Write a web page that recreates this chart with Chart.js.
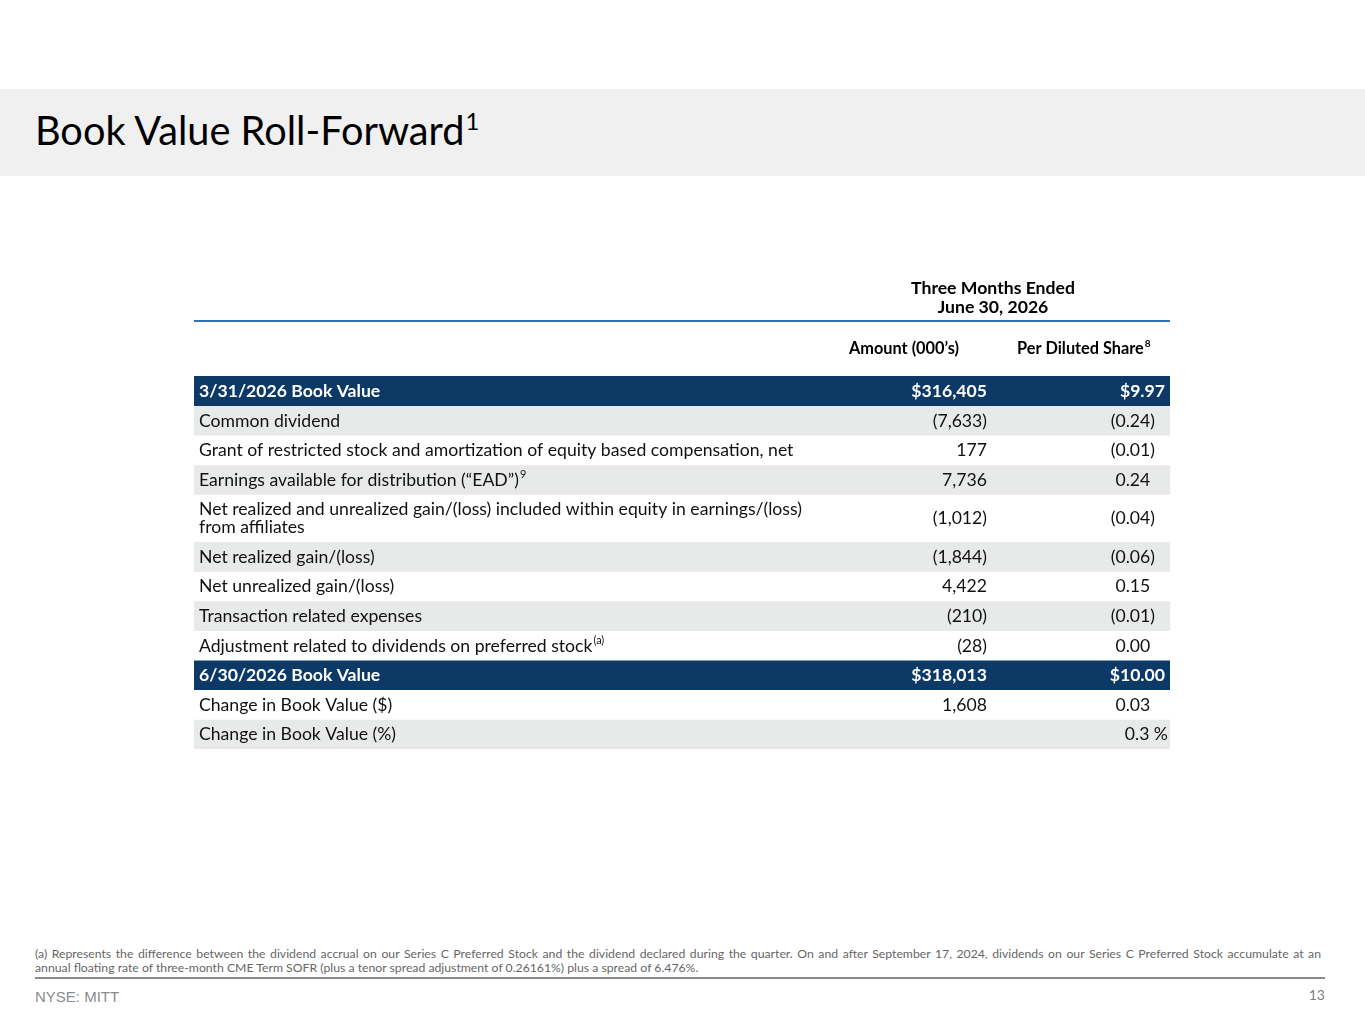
<!DOCTYPE html>
<html>
<head>
<meta charset="utf-8">
<script src="https://cdn.jsdelivr.net/npm/chart.js@4.4.1/dist/chart.umd.min.js"></script>
<style>
  html,body{margin:0;padding:0;background:#fff;}
  body{width:1365px;height:1024px;position:relative;overflow:hidden;font-family:Lato,"Open Sans",sans-serif;}
  #band{position:absolute;left:0;top:89px;width:1365px;height:87px;background:#f0f0f0;}
  #title{position:absolute;left:35px;white-space:nowrap;color:#000;line-height:1.2;}
  #title sup{font-size:0.6em;vertical-align:0;position:relative;top:-0.62em;margin-left:1px;}
  #tableWrap{position:absolute;left:194px;top:270px;width:976px;height:479px;}
  .fn{position:absolute;left:35px;width:1286px;color:#666;white-space:nowrap;line-height:1.2;}
  #fn1{text-align:justify;text-align-last:justify;white-space:normal;}
  #rule{position:absolute;left:35px;top:977px;width:1290px;height:2px;background:#8a8a8a;}
  #ticker{position:absolute;left:35px;top:988px;font-family:"Liberation Sans",Arial,sans-serif;font-size:15px;color:#8c8c8c;line-height:18px;}
  #page{position:absolute;right:40px;top:986px;font-size:14px;color:#7f7f7f;line-height:17px;}
</style>
</head>
<body>
<div id="band"></div>
<div id="title">Book Value Roll-Forward<sup>1</sup></div>
<div id="tableWrap"><canvas id="tbl" width="976" height="479"></canvas></div>
<div class="fn" id="fn1">(a) Represents the difference between the dividend accrual on our Series C Preferred Stock and the dividend declared during the quarter. On and after September 17, 2024, dividends on our Series C Preferred Stock accumulate at an</div>
<div class="fn" id="fn2">annual floating rate of three-month CME Term SOFR (plus a tenor spread adjustment of 0.26161%) plus a spread of 6.476%.</div>
<div id="rule"></div>
<div id="ticker">NYSE: MITT</div>
<div id="page">13</div>
<script>
// ---- data ----
const rowLabels = [
  '3/31/2026 Book Value',
  'Common dividend',
  'Grant of restricted stock and amortization of equity based compensation, net',
  'Earnings available for distribution (“EAD”)',
  'Net realized and unrealized gain/(loss) included within equity in earnings/(loss)\nfrom affiliates',
  'Net realized gain/(loss)',
  'Net unrealized gain/(loss)',
  'Transaction related expenses',
  'Adjustment related to dividends on preferred stock',
  '6/30/2026 Book Value',
  'Change in Book Value ($)',
  'Change in Book Value (%)'
];
const labelNotes = ['', '', '', '9', '', '', '', '', '(a)', '', '', ''];
const rowTypes = ['total','item','item','item','item','item','item','item','item','total','item','percent'];
const amounts = [316405, -7633, 177, 7736, -1012, -1844, 4422, -210, -28, 318013, 1608, null];
const perShare = [9.97, -0.24, -0.01, 0.24, -0.04, -0.06, 0.15, -0.01, 0.00, 10.00, 0.03, 0.3];
const headerLines = ['Three Months Ended', 'June 30, 2026'];
const columnHeads = ['Amount (000’s)', 'Per Diluted Share'];
const columnNotes = ['', '8'];

// ---- fonts ----
const FAMILY = 'Lato';
const mctx = document.createElement('canvas').getContext('2d');
function fitSize(text, weight, target, fam){
  mctx.font = weight + ' 100px ' + (fam || FAMILY);
  return 100 * target / mctx.measureText(text).width;
}
const bodySize = fitSize(rowLabels[2], 'normal', 595);
const headSize = fitSize(headerLines[0], 'bold', 164);
const colSize = fitSize(columnHeads[0], 'bold', 110);

// page text sizing
const titleSize = fitSize('Book Value Roll-Forward', 'normal', 431);
const titleEl = document.getElementById('title');
titleEl.style.fontSize = titleSize + 'px';
titleEl.style.top = (145 - 0.987 * titleSize - 0.0 * titleSize) + 'px';
const fnSize = fitSize(document.getElementById('fn2').textContent, 'normal', 665);
const fn1 = document.getElementById('fn1'), fn2 = document.getElementById('fn2');
[fn1, fn2].forEach(e => e.style.fontSize = fnSize + 'px');
fn1.style.top = (959 - 0.987 * fnSize) + 'px';
fn2.style.top = (973 - 0.987 * fnSize) + 'px';

// ---- formatting ----
function fmtAmount(v, t){
  if (v === null || v === undefined) return '';
  let s = Math.abs(v).toLocaleString('en-US');
  if (t === 'total') s = '$' + s;
  return v < 0 ? '(' + s + ')' : s;
}
function fmtShare(v, t){
  if (t === 'percent') return v.toFixed(1) + ' %';
  let s = Math.abs(v).toFixed(2);
  if (t === 'total') s = '$' + s;
  return v < 0 ? '(' + s + ')' : s;
}
const NAVY = '#0c3966', GREY = '#e8e9e9', WHITE = '#ffffff';
function rowColor(i){
  if (rowTypes[i] === 'total') return NAVY;
  return i % 2 === 1 ? GREY : WHITE;
}
const rowUnits = rowLabels.map(l => 1 + 0.6 * (l.split('\n').length - 1));
const totalUnits = rowUnits.reduce((a, b) => a + b, 0);

// ---- column anchors (canvas coords) ----
const X_LABEL = 5, X_AMT = 793, X_SHARE_PAREN = 961, X_SHARE_BOLD = 971, X_PCT = 974;

const tablePlugin = {
  id: 'tableText',
  afterDatasetsDraw(chart){
    const ctx = chart.ctx;
    const W = chart.width;
    ctx.save();
    ctx.textBaseline = 'middle';
    // header
    ctx.fillStyle = '#000';
    ctx.textAlign = 'center';
    ctx.font = `bold ${headSize}px ${FAMILY}`;
    ctx.fillText(headerLines[0], 799, 18);
    ctx.fillText(headerLines[1], 799, 37);
    ctx.strokeStyle = '#2e74b5';
    ctx.lineWidth = 2;
    ctx.beginPath(); ctx.moveTo(0, 51); ctx.lineTo(W, 51); ctx.stroke();
    // column heads
    ctx.font = `bold ${colSize}px ${FAMILY}`;
    ctx.fillText(columnHeads[0], 710, 79);
    ctx.textAlign = 'left';
    ctx.fillText(columnHeads[1], 823, 79);
    const w1 = ctx.measureText(columnHeads[1]).width;
    ctx.font = `bold ${colSize * 0.62}px ${FAMILY}`;
    ctx.fillText(columnNotes[1], 823 + w1 + 1, 74);

    // rows
    rowLabels.forEach((label, i) => {
      const el = chart.getDatasetMeta(i).data[0];
      const top = Math.min(el.y, el.base), bot = Math.max(el.y, el.base);
      const cy = (top + bot) / 2 + 0.5;
      const t = rowTypes[i];
      const bold = t === 'total';
      const weight = bold ? 'bold' : 'normal';
      ctx.fillStyle = bold ? '#ffffff' : '#111111';
      ctx.font = `${weight} ${bodySize}px ${FAMILY}`;
      const lines = label.split('\n');
      const lh = 18;
      const y0 = cy - (lines.length - 1) * lh / 2;
      ctx.textAlign = 'left';
      lines.forEach((ln, k) => ctx.fillText(ln, X_LABEL, y0 + k * lh));
      if (labelNotes[i]) {
        const lw = ctx.measureText(lines[lines.length - 1]).width;
        ctx.font = `${weight} ${bodySize * 0.62}px ${FAMILY}`;
        ctx.fillText(labelNotes[i], X_LABEL + lw + 1, y0 + (lines.length - 1) * lh - bodySize * 0.32);
        ctx.font = `${weight} ${bodySize}px ${FAMILY}`;
      }
      // amount
      ctx.textAlign = 'right';
      ctx.fillText(fmtAmount(amounts[i], t), X_AMT, cy);
      // per share
      const v = perShare[i];
      let xr;
      if (t === 'percent') xr = X_PCT;
      else if (t === 'total') xr = X_SHARE_BOLD;
      else if (v < 0) xr = X_SHARE_PAREN;
      else xr = X_SHARE_PAREN - ctx.measureText(')').width;
      ctx.fillText(fmtShare(v, t), xr, cy);
    });
    ctx.restore();
  }
};

new Chart(document.getElementById('tbl'), {
  type: 'bar',
  data: {
    labels: ['Three Months Ended June 30, 2026'],
    datasets: rowLabels.map((l, i) => ({
      label: l.replace('\n', ' '),
      data: [rowUnits[i]],
      backgroundColor: rowColor(i),
      borderWidth: 0,
      barPercentage: 1,
      categoryPercentage: 1,
      stack: 'table'
    }))
  },
  options: {
    responsive: false,
    animation: false,
    layout: { padding: { top: 106, left: 0, right: 0, bottom: 0 } },
    plugins: { legend: { display: false }, tooltip: { enabled: false } },
    scales: {
      x: { display: false, stacked: true },
      y: { display: false, stacked: true, reverse: true, min: 0, max: totalUnits }
    }
  },
  plugins: [tablePlugin]
});
</script>
</body>
</html>
